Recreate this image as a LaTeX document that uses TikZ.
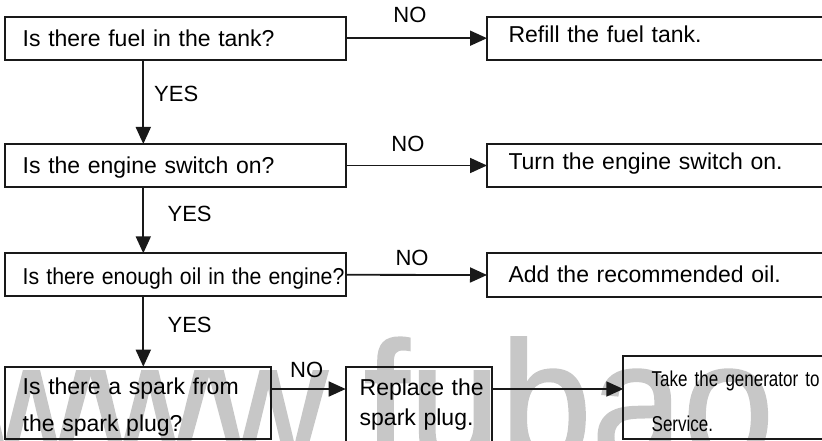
\documentclass[tikz,border=0pt]{standalone}
\usepackage{fontspec}
\setmainfont{Liberation Sans}
\newfontfamily\narrowfont[FakeStretch=0.79]{Liberation Sans}
\newfontfamily\markfont[FakeBold=1.3]{Liberation Sans}
\usetikzlibrary{arrows.meta}

\begin{document}
\begin{tikzpicture}[x=1pt,y=-1pt,
  font=\fontsize{23}{27}\selectfont,
  box/.style={draw=black!90,line width=1.8pt,anchor=north west,align=left,outer sep=0pt,inner ysep=0pt},
  ask/.style={box,inner xsep=18pt,text width=305pt,text height=29.5pt,text depth=13.5pt},
  fix/.style={box,inner xsep=21.5pt,text width=330pt,text height=26pt,text depth=17pt},
  arr/.style={line width=1.8pt,draw=black!90,-{Triangle[length=17pt,width=15pt]}},
  yes/.style={font=\fontsize{22}{26}\selectfont,anchor=west,pos=0.41,inner ysep=0pt},
  no/.style={font=\fontsize{22}{26}\selectfont,anchor=base,inner sep=0pt}]
\useasboundingbox (0,0) rectangle (822,441);
\clip (0,0) rectangle (822,441);
\node[anchor=base west,inner sep=0pt,text=black!22,font=\markfont\fontsize{172}{172}\selectfont] (wm) at (-28,462) {\scalebox{0.953}[1]{www.fubao}};

\coordinate (c) at (143.3,0);
\coordinate (r4) at (0,389);

\node[ask] (q1) at (4.7,16.7) {Is there fuel in the tank?};
\node[ask] (q2) at (4.7,144) {Is the engine switch on?};
\node[ask,text height=31pt,text depth=12pt] (q3) at (4.7,253.3) {\hbox to 305pt{\scalebox{0.925}[1]{Is there enough oil in the engine?}\hss}};
\node[box,inner xsep=18pt,text width=230pt,font=\fontsize{23}{37}\selectfont] (q4) at (4.7,366.7) {\rule{0pt}{27.3pt}\makebox[230pt][s]{Is there a spark from}\\\makebox[172pt][s]{the spark plug?}\rule[-8.3pt]{0pt}{0pt}};

\node[fix] (a1) at (487,16.7) {Refill the fuel tank.};
\node[fix] (a2) at (487,144) {Turn the engine switch on.};
\node[fix,text height=29.4pt,text depth=14pt] (a3) at (487,253.3) {Add the recommended oil.};
\node[box,inner xsep=11pt,text width=124pt,font=\fontsize{23}{30}\selectfont] (plug) at (345.7,366.7) {\rule{0pt}{28.3pt}\hspace*{3pt}\mbox{Replace the}\\\hspace*{3pt}\mbox{spark plug.}\rule[-22pt]{0pt}{0pt}};
\node[box,inner xsep=28.4pt,text width=200pt,font=\narrowfont\fontsize{21.5}{45}\selectfont] (svc) at (623.3,355.7) {\rule{0pt}{31pt}Take the generator to\\Service.\rule[-7.3pt]{0pt}{0pt}};

\draw[arr] (q1.south -| c) -- node[yes,inner xsep=10pt] {YES} (q2.north -| c);
\draw[arr] (q2.south -| c) -- node[yes,inner xsep=23.4pt] {YES} (q3.north -| c);
\draw[arr] (q3.south -| c) -- node[yes,inner xsep=23.4pt] {YES} (q4.north -| c);

\draw[arr] (q1.east) -- node[no,pos=0.455,yshift=16pt] {NO} (a1.west);
\draw[arr] (q2.east) -- node[no,pos=0.44,yshift=14pt] {NO} (a2.west);
\draw[arr] (q3.east) -- node[no,pos=0.47,yshift=9pt] {NO} (a3.west);
\draw[arr] (q4.east |- r4) -- node[no,pos=0.48,yshift=11.7pt] {NO} (plug.west |- r4);
\draw[arr] (plug.east |- r4) -- (svc.west |- r4);
\end{tikzpicture}
\end{document}
